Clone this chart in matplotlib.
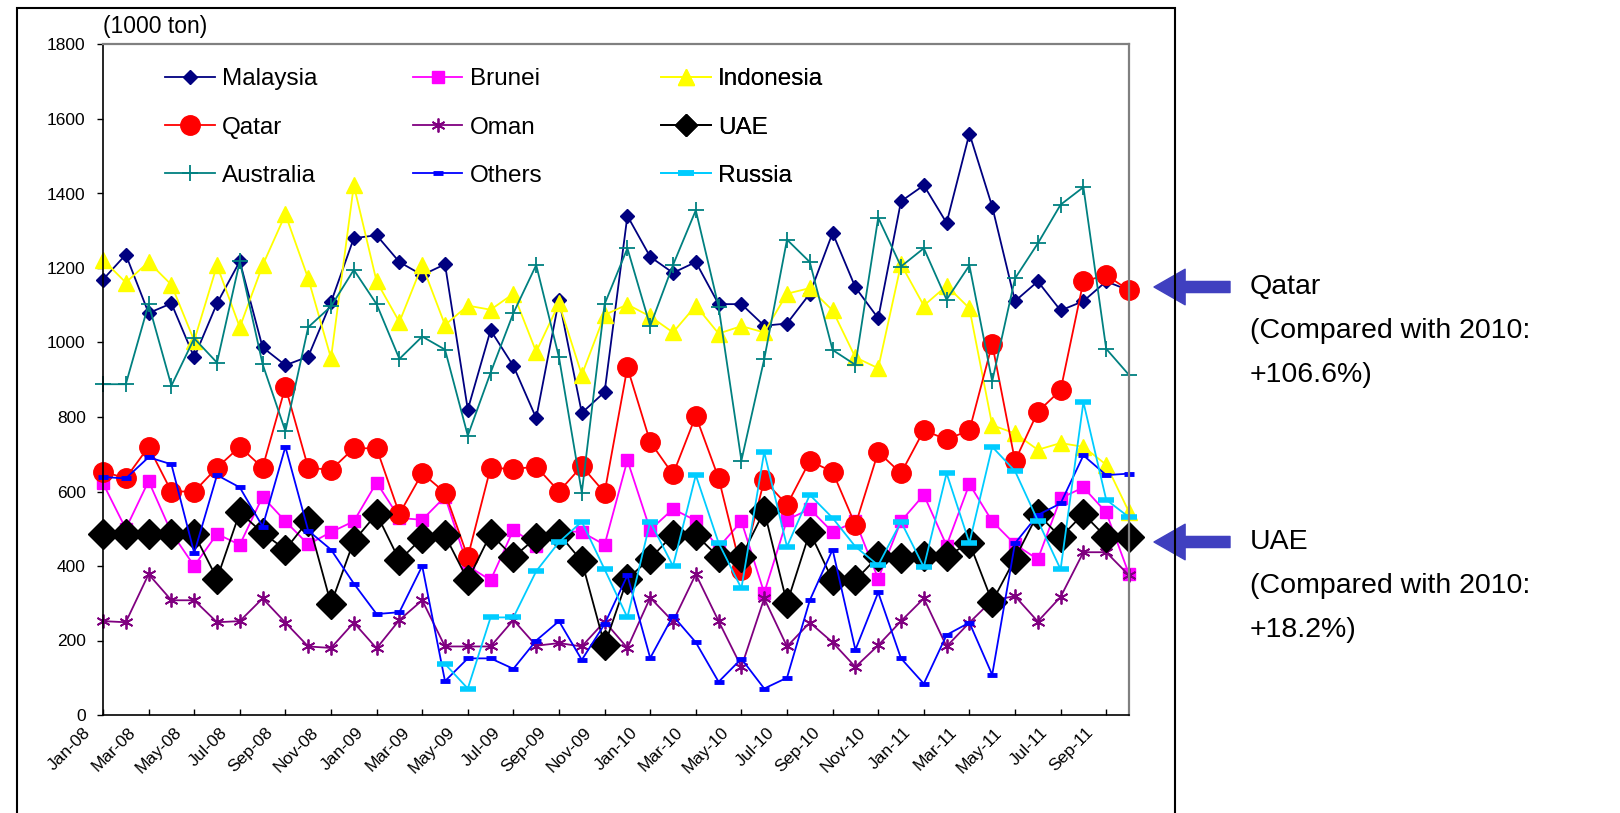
import numpy as np
import pandas as pd
import matplotlib
matplotlib.use('Agg')
import matplotlib.pyplot as plt
import matplotlib.transforms as mtransforms
from matplotlib.patches import Rectangle

plt.rcParams['font.family'] = ['Liberation Sans', 'DejaVu Sans']

# monthly LNG imports by source, 1000 ton
months = list(pd.date_range('2008-01-01', periods=46, freq='MS').strftime('%b-%y'))

malaysia = [1169, 1236, 1079, 1105, 960, 1105, 1218, 987, 939, 962,
            1108, 1280, 1288, 1216, 1181, 1210, 820, 1033, 937, 797,
            1115, 811, 867, 1340, 1230, 1187, 1216, 1103, 1103, 1045,
            1051, 1131, 1294, 1148, 1065, 1379, 1422, 1321, 1561, 1365,
            1111, 1164, 1086, 1111, 1164, 1140]
brunei = [622, 500, 628, 490, 400, 486, 457, 586, 520, 458,
          491, 520, 624, 529, 524, 586, 400, 362, 497, 455,
          495, 491, 457, 684, 497, 553, 522, 450, 520, 328,
          524, 553, 491, 520, 366, 520, 591, 455, 620, 520,
          458, 418, 582, 611, 544, 378]
indonesia = [1222, 1161, 1216, 1155, 1005, 1207, 1041, 1207, 1344, 1172,
             958, 1422, 1164, 1055, 1208, 1047, 1099, 1088, 1131, 975,
             1105, 913, 1074, 1102, 1070, 1027, 1099, 1024, 1044, 1027,
             1131, 1146, 1086, 960, 931, 1210, 1099, 1152, 1092, 778,
             756, 712, 730, 720, 672, 545]
qatar = [653, 636, 720, 600, 600, 664, 720, 664, 881, 664,
         658, 716, 716, 540, 649, 597, 424, 664, 660, 667,
         600, 668, 597, 933, 733, 646, 803, 636, 388, 630,
         564, 682, 653, 510, 706, 649, 764, 740, 764, 996,
         682, 814, 872, 1164, 1181, 1140]
oman = [252, 249, 378, 308, 308, 249, 252, 313, 248, 184,
        180, 248, 179, 255, 308, 184, 184, 184, 255, 186,
        193, 184, 251, 180, 315, 251, 378, 252, 129, 313,
        184, 248, 195, 129, 187, 252, 313, 184, 248, 308,
        319, 251, 317, 437, 437, 375]
uae = [486, 486, 486, 486, 486, 366, 544, 489, 444, 522,
       298, 467, 540, 415, 476, 482, 362, 486, 424, 476,
       486, 413, 187, 366, 420, 484, 484, 424, 424, 548,
       300, 491, 362, 362, 426, 421, 426, 426, 462, 304,
       420, 540, 477, 540, 477, 477]
australia = [888, 888, 1103, 884, 1011, 946, 1218, 942, 762, 1041,
             1097, 1195, 1103, 956, 1016, 981, 750, 919, 1079, 1208,
             960, 597, 1103, 1253, 1044, 1208, 1355, 1096, 683, 955,
             1276, 1216, 980, 940, 1335, 1204, 1253, 1115, 1207, 896,
             1172, 1266, 1370, 1417, 983, 913]
others = [639, 635, 692, 673, 435, 644, 611, 506, 720, 495,
          444, 353, 271, 276, 400, 91, 152, 152, 124, 200,
          252, 148, 244, 375, 153, 266, 195, 89, 151, 71,
          100, 308, 444, 175, 329, 152, 84, 215, 248, 108,
          461, 537, 568, 697, 644, 648]
russia = [np.nan] * 15 + [137, 71, 262, 262, 386, 464, 519, 391, 262, 519,
                          400, 644, 462, 340, 706, 452, 591, 529, 452, 402,
                          519, 397, 649, 462, 720, 655, 522, 391, 840, 578,
                          531]

W, H = 1620, 813
fig = plt.figure(figsize=(W / 100, H / 100), dpi=100)
ax = fig.add_axes([103 / W, 1 - 715 / H, (1129 - 103) / W, (715 - 44.5) / H])
x = np.arange(len(months))

lw = 1.3
h_mal, = ax.plot(x, malaysia, color='#000080', lw=lw, marker='D', ms=7, mfc='#000080', mec='#000080', clip_on=False, label='Malaysia')
h_bru, = ax.plot(x, brunei, color='#FF00FF', lw=lw, marker='s', ms=9, mfc='#FF00FF', mec='#FF00FF', clip_on=False, label='Brunei')
h_ind, = ax.plot(x, indonesia, color='#FFFF00', lw=lw, marker='^', ms=11, mfc='#FFFF00', mec='#FFFF00', clip_on=False, label='Indonesia')
h_qat, = ax.plot(x, qatar, color='#FF0000', lw=lw, marker='o', ms=14, mfc='#FF0000', mec='#FF0000', clip_on=False, label='Qatar')
h_oma, = ax.plot(x, oman, color='#800080', lw=lw, marker=(6, 2, 0), ms=10, mec='#800080', mew=1.3, clip_on=False, label='Oman')
h_uae, = ax.plot(x, uae, color='#000000', lw=lw, marker='D', ms=15, mfc='#000000', mec='#000000', clip_on=False, label='UAE')
h_aus, = ax.plot(x, australia, color='#008080', lw=lw, marker='+', ms=11, mec='#008080', mew=1.3, clip_on=False, label='Australia')
h_oth, = ax.plot(x, others, color='#0000FF', lw=lw, marker='_', ms=7, mec='#0000FF', mew=3.5, clip_on=False, label='Others')
h_rus, = ax.plot(x, russia, color='#00CCFF', lw=lw, marker='_', ms=11, mec='#00CCFF', mew=4, clip_on=False, label='Russia')

ax.set_xlim(0, len(months) - 1)
ax.set_ylim(0, 1800)
ax.set_yticks(np.arange(0, 1801, 200))
ax.tick_params(axis='y', direction='out', length=4.5, width=1, labelsize=12.5, pad=8)
ax.set_xticks(x[::2])
ax.set_xticklabels(months[::2], rotation=45, ha='right', va='top', fontsize=12.5)
ax.tick_params(axis='x', direction='in', length=4, width=1, pad=7)
shift = mtransforms.ScaledTranslation(-0.10, 0, fig.dpi_scale_trans)
for lab in ax.get_xticklabels():
    lab.set_transform(lab.get_transform() + shift)

for side in ['left', 'bottom']:
    ax.spines[side].set_color('black')
    ax.spines[side].set_linewidth(1.2)
for side in ['top', 'right']:
    ax.spines[side].set_color('#808080')
    ax.spines[side].set_linewidth(1.6)

# three legend columns, filled row by row
columns = [([h_mal, h_qat, h_aus], 0.0604),
           ([h_bru, h_oma, h_oth], 0.302),
           ([h_ind, h_uae, h_rus], 0.544)]
for handles, x0 in columns:
    leg = ax.legend(handles=handles, loc='upper left', bbox_to_anchor=(x0, 0.9645),
                    frameon=False, fontsize=17.5, handlelength=2.04, handletextpad=0.3,
                    labelspacing=1.08, borderpad=0, borderaxespad=0, numpoints=1)
    for h in leg.legend_handles:
        if h.get_label() == 'UAE':
            h.set_markersize(11)
    ax.add_artist(leg)

fig.text(103 / W, 1 - 27 / H, '(1000 ton)', fontsize=16.5, ha='left', va='center')

# outer frame
fig.patches.append(Rectangle((17 / W, -0.02), (1175 - 17) / W, 0.02 + 1 - 8.3 / H,
                             transform=fig.transFigure, fill=False, lw=1.5, ec='black'))

# callouts on the right
arrow_color = '#4040C0'
callouts = [(287, ['Qatar', '(Compared with 2010:', '+106.6%)']),
            (542, ['UAE', '(Compared with 2010:', '+18.2%)'])]
for y0, lines in callouts:
    ax.annotate('', xy=(1154, H - y0), xytext=(1230, H - y0),
                xycoords='figure pixels', textcoords='figure pixels', annotation_clip=False,
                arrowprops=dict(arrowstyle='simple,head_width=1.6,head_length=1.4,tail_width=0.5',
                                fc=arrow_color, ec=arrow_color, mutation_scale=16,
                                shrinkA=0, shrinkB=0))
    for k, line in enumerate(lines):
        fig.text(1250 / W, 1 - (y0 + 44 * k) / H, line, fontsize=20.5, ha='left', va='center')

fig.savefig('out.png', dpi=100)
